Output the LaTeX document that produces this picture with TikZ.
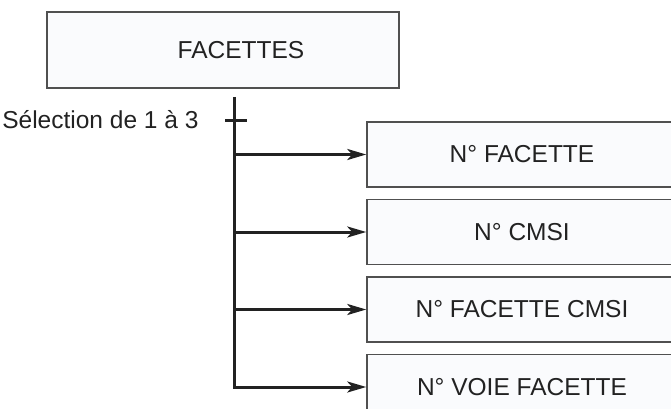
\documentclass[tikz,border=0pt]{standalone}
\usepackage{fontspec}
\setmainfont{Liberation Sans}
\usetikzlibrary{arrows.meta,positioning}
\definecolor{boxfill}{HTML}{FAFBFD}
\definecolor{boxline}{HTML}{505050}
\definecolor{inkdark}{HTML}{222222}
\begin{document}
\begin{tikzpicture}[x=1pt, y=-1pt,
 every node/.style={font=\fontsize{24.5}{28}\selectfont, text=inkdark},
 champ/.style={draw=boxline, line width=1.5pt, fill=boxfill, minimum width=320pt, minimum height=65pt, inner sep=0pt},
 tige/.style={draw=inkdark, line width=3pt},
 fleche/.style={tige, -{Stealth[length=19pt, width=11pt, inset=5pt]}}]
\useasboundingbox (0,0) rectangle (671,409);
\node[champ, minimum width=352pt, minimum height=76pt, label={[xshift=18pt]center:FACETTES}] (facettes) at (223,50) {};
\coordinate (haut) at (234,97);
\coordinate (sel) at (234,120);
\node[left=32pt of sel] (selection) {Sélection de 1 à 3};
\node[champ] (n1) at (527,154.5) {\hspace*{-10pt}N° FACETTE};
\foreach \nom/\prec/\texte in {n2/n1/N° CMSI, n3/n2/N° FACETTE CMSI, n4/n3/N° VOIE FACETTE}
  \node[champ, below=11pt of \prec] (\nom) {\hspace*{-10pt}\texte};
% tronc et fleches
\draw[tige] ([xshift=-9pt]sel) -- ([xshift=13pt]sel);
\draw[fleche] (haut) |- (n4.west);
\foreach \nom in {n1,n2,n3}
  \draw[fleche] (haut |- \nom.west) -- (\nom.west);
\end{tikzpicture}
\end{document}
